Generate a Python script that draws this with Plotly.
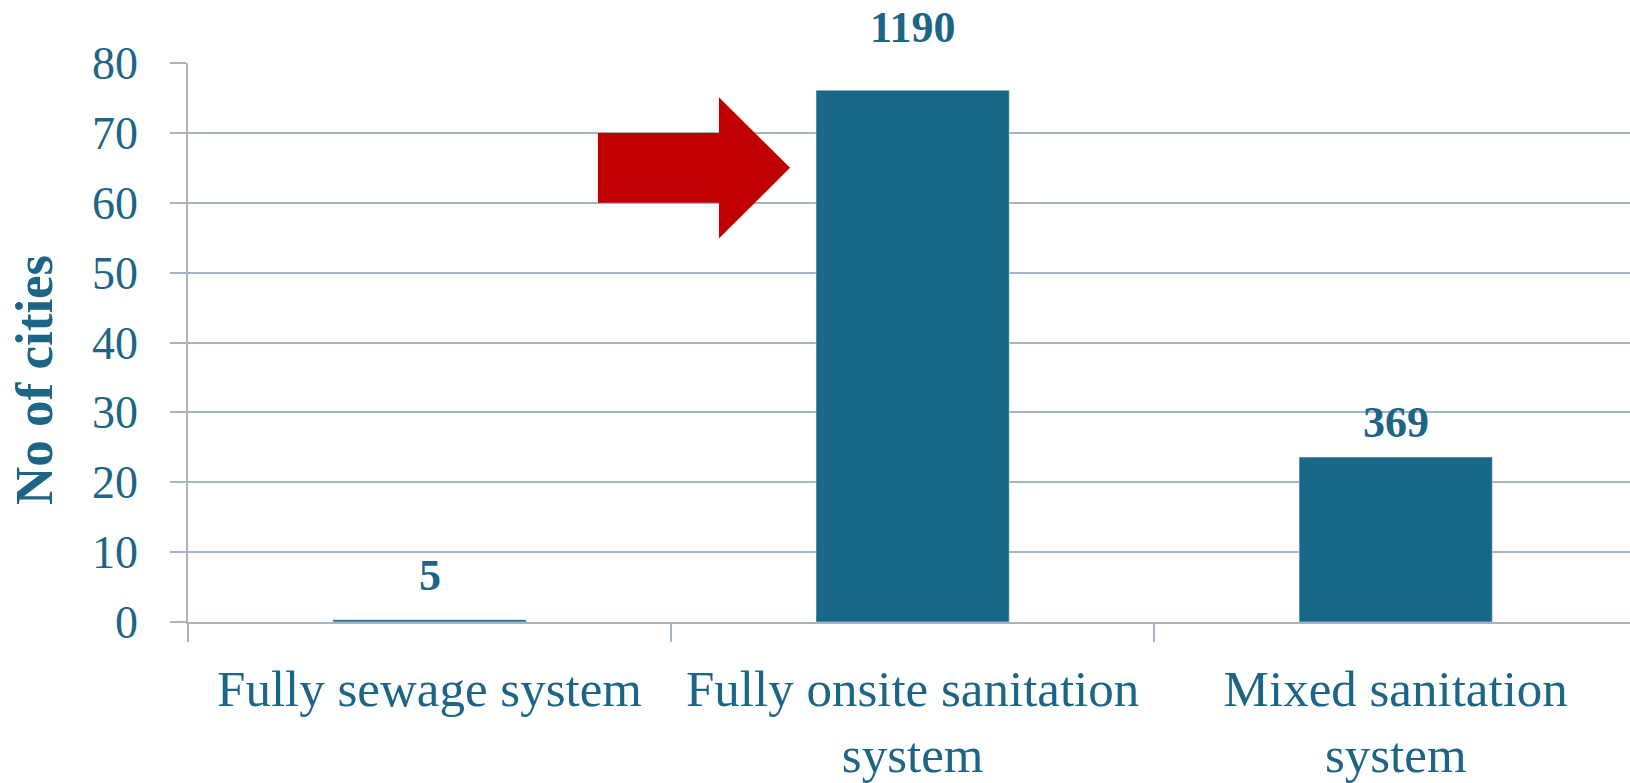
import plotly.graph_objects as go

# ---- data ----
categories = ["Fully sewage system", "Fully onsite sanitation<br>system", "Mixed sanitation<br>system"]
share_pct = [0.32, 76.1, 23.6]          # bar heights on the 0-80 axis
city_counts = ["5", "1190", "369"]       # data labels shown above the bars
y_ticks = [0, 10, 20, 30, 40, 50, 60, 70, 80]

BAR = "#19688a"
TXT = "#1d6587"
GRID = "#a7b4bf"
FONT = "Liberation Serif"

fig = go.Figure()
fig.add_trace(go.Bar(x=categories, y=share_pct, marker_color=BAR, width=0.4,
                     hoverinfo="skip"))

# label offsets above the bar tops (px), as placed in the original
label_shift = [44, 63, 35]
for c, v, t, s in zip(categories, share_pct, city_counts, label_shift):
    fig.add_annotation(x=c, y=v, text="<b>%s</b>" % t, showarrow=False,
                       yanchor="middle", yshift=s,
                       font=dict(family=FONT, size=44, color=TXT))

# y-axis title
fig.add_annotation(x=-0.1068, y=0.433, xref="paper", yref="paper",
                   text="<b>No of cities</b>", textangle=-90, showarrow=False,
                   xanchor="center", yanchor="middle",
                   font=dict(family=FONT, size=53, color=TXT))

# red block arrow (decoration)
xt, xb, xp = 0.2843, 0.3682, 0.4175
path = (f"M {xt},70 L {xb},70 L {xb},75.1 L {xp},65 L {xb},54.9 "
        f"L {xb},60 L {xt},60 Z")
fig.add_shape(type="path", path=path, xref="paper", yref="y",
              fillcolor="#c00000", line=dict(width=0), layer="above")

fig.update_layout(
    width=1630, height=783,
    margin=dict(l=188, r=0, t=63, b=161),
    paper_bgcolor="white", plot_bgcolor="white",
    showlegend=False, bargap=0.6,
    font=dict(family=FONT, color=TXT),
)
fig.update_xaxes(range=[-0.5, 2.485], showline=True, linecolor=GRID, linewidth=1.5,
                 ticks="outside", tickson="boundaries", ticklen=18, tickcolor=GRID,
                 tickwidth=1.5, showgrid=False, ticklabelstandoff=21,
                 tickfont=dict(family=FONT, size=51, color=TXT))
fig.update_yaxes(range=[0, 80], tickvals=y_ticks, showline=True, linecolor=GRID,
                 linewidth=1.5, showgrid=True, gridcolor=GRID, gridwidth=1.5,
                 zeroline=False, ticks="outside", ticklen=16, tickcolor=GRID,
                 tickwidth=1.5, ticklabelstandoff=23,
                 tickfont=dict(family=FONT, size=46, color=TXT))

fig.write_html("out.html")
